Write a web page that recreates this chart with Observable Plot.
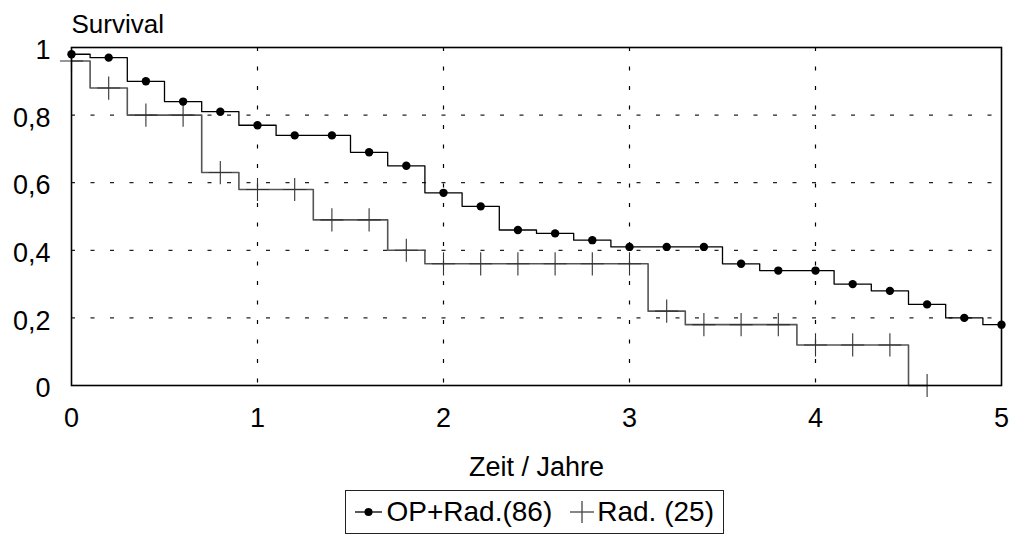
<!DOCTYPE html>
<html><head><meta charset="utf-8">
<script src="https://cdn.jsdelivr.net/npm/d3@7"></script>
<script src="https://cdn.jsdelivr.net/npm/@observablehq/plot@0.6"></script>
<style>
body{margin:0;background:#fff;font-family:"Liberation Sans",Arial,sans-serif;}
#chart{position:absolute;left:0;top:0;}
#legend{position:absolute;left:345px;top:490px;width:379px;height:44px;box-sizing:border-box;border:1.5px solid #222;display:flex;align-items:center;font-size:28px;color:#000;white-space:nowrap;}
#legend .item{display:flex;align-items:center;}
#legend svg{display:block;}
</style></head><body>
<div id="chart"></div>
<div id="legend"></div>
<script>
// Data
const opYears = [0,0.2,0.4,0.6,0.8,1.0,1.2,1.4,1.6,1.8,2.0,2.2,2.4,2.6,2.8,3.0,3.2,3.4,3.6,3.8,4.0,4.2,4.4,4.6,4.8,5.0];
const opSurvival = [0.98,0.97,0.90,0.84,0.81,0.77,0.74,0.74,0.69,0.65,0.57,0.53,0.46,0.45,0.43,0.41,0.41,0.41,0.36,0.34,0.34,0.30,0.28,0.24,0.20,0.18];
const radYears = [0,0.2,0.4,0.6,0.8,1.0,1.2,1.4,1.6,1.8,2.0,2.2,2.4,2.6,2.8,3.0,3.2,3.4,3.6,3.8,4.0,4.2,4.4,4.6];
const radSurvival = [0.96,0.88,0.80,0.80,0.63,0.58,0.58,0.49,0.49,0.40,0.36,0.36,0.36,0.36,0.36,0.36,0.22,0.18,0.18,0.18,0.12,0.12,0.12,0.0];
const seriesNames = ["OP+Rad.(86)", "Rad. (25)"];
const xTicks = [0,1,2,3,4,5];
const yTicks = [0,0.2,0.4,0.6,0.8,1];
const yTitle = "Survival";
const xTitle = "Zeit / Jahre";

const opData = opYears.map((t,i)=>({t, s: opSurvival[i]}));
const radData = radYears.map((t,i)=>({t, s: radSurvival[i]}));
const fmt = d => String(d).replace(".", ",");
const FONT = "'Liberation Sans', Arial, sans-serif";

const chart = Plot.plot({
  width: 1015, height: 488,
  marginTop: 47, marginLeft: 71, marginRight: 14, marginBottom: 103,
  x: {domain: [0,5]},
  y: {domain: [0,1]},
  style: {fontFamily: FONT, fontSize: "27px", color: "#000", background: "#fff", overflow: "visible"},
  marks: [
    Plot.gridX(xTicks.slice(1,-1), {stroke: "#000", strokeOpacity: 1, strokeWidth: 1.2, strokeDasharray: "4,15.5"}),
    Plot.gridY(yTicks.slice(1,-1), {stroke: "#222", strokeOpacity: 1, strokeWidth: 1.2, strokeDasharray: "4,15.5"}),
    Plot.axisX(xTicks, {tickSize: 0, tickPadding: 22, fontSize: 27, label: null, tickFormat: d => String(d)}),
    Plot.axisY(yTicks, {tickSize: 0, tickPadding: 21, fontSize: 27, label: null, tickFormat: fmt, dy: 3}),
    Plot.line(radData, {x: "t", y: "s", curve: "step", stroke: "#555", strokeWidth: 1.6}),
    Plot.line(opData, {x: "t", y: "s", curve: "step", stroke: "#000", strokeWidth: 1.3}),
    Plot.dot(radData, {x: "t", y: "s", symbol: "plus", r: 7.5, stroke: "#333", strokeWidth: 1.1}),
    Plot.dot(opData, {x: "t", y: "s", r: 4.2, fill: "#000", stroke: "none"}),
    Plot.frame({stroke: "#000", strokeWidth: 1.6}),
    Plot.text([yTitle], {text: d => d, frameAnchor: "top-left", textAnchor: "start", lineAnchor: "bottom", dy: -15, fontSize: 26}),
    Plot.text([xTitle], {text: d => d, frameAnchor: "bottom", lineAnchor: "bottom", dy: 90, fontSize: 27})
  ]
});
document.getElementById("chart").appendChild(chart);

// Legend
const legend = document.getElementById("legend");
function item(name, kind, padLeft, svgW, gap){
  const div = document.createElement("div");
  div.className = "item";
  div.style.marginLeft = padLeft + "px";
  const ns = "http://www.w3.org/2000/svg";
  const svg = document.createElementNS(ns, "svg");
  svg.setAttribute("width", svgW); svg.setAttribute("height", 26);
  if (kind === "dot") {
    svg.innerHTML = `<line x1="0" x2="${svgW}" y1="13" y2="13" stroke="#000" stroke-width="1.3"/><circle cx="${svgW/2}" cy="13" r="4" fill="#000"/>`;
  } else {
    svg.innerHTML = `<line x1="0" x2="${svgW}" y1="13" y2="13" stroke="#444" stroke-width="1.3"/><line x1="${svgW/2}" x2="${svgW/2}" y1="2" y2="24" stroke="#444" stroke-width="1.3"/>`;
  }
  div.appendChild(svg);
  const span = document.createElement("span");
  span.textContent = name;
  span.style.marginLeft = gap + "px";
  div.appendChild(span);
  legend.appendChild(div);
}
item(seriesNames[0], "dot", 8.5, 27, 5);
item(seriesNames[1], "plus", 18, 24, 3);
</script>
</body></html>
